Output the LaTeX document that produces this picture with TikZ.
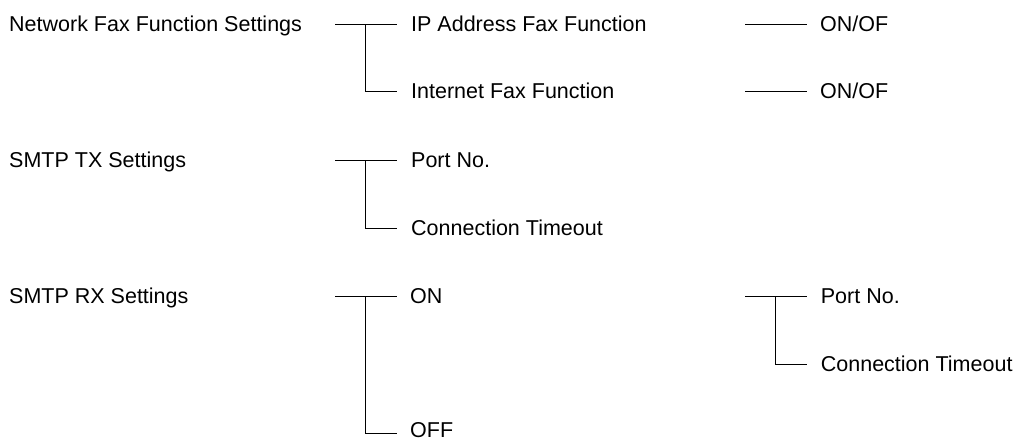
\documentclass[tikz,border=0pt]{standalone}
\usepackage{fontspec}
\setmainfont{Liberation Sans}
\tikzset{
  lbl/.style={anchor=base west, inner sep=0pt, font=\fontsize{21.5}{26}\selectfont},
  ln/.style={line width=1pt, line cap=rect}
}
\begin{document}
\begin{tikzpicture}[x=1pt,y=-1pt]
\useasboundingbox (0,0) rectangle (1018,440);
% row 1
\node[lbl] (nf) at (9,31) {Network Fax Function Settings};
\node[lbl] (ip) at (411,31) {IP Address Fax Function};
\node[lbl] (if) at (411,98.7) {Internet Fax Function};
\node[lbl] (on1) at (820,31) {ON/OF};
\node[lbl] (on2) at (820,98.7) {ON/OF};
\coordinate (nf-out) at (335,24);
\coordinate (nf-j) at (365.7,24);
\coordinate (ip-in) at (396,24);
\coordinate (if-in) at (396,91.7);
\coordinate (ip-out) at (745,24);
\coordinate (on1-in) at (806,24);
\coordinate (if-out) at (745,91.7);
\coordinate (on2-in) at (806,91.7);
\draw[ln] (nf-out) -- (ip-in);
\draw[ln] (nf-j) |- (if-in);
\draw[ln] (ip-out) -- (on1-in);
\draw[ln] (if-out) -- (on2-in);
% row 2
\node[lbl] (tx) at (9,167.7) {SMTP TX Settings};
\node[lbl] (txp) at (411,167.7) {Port No.};
\node[lbl] (txc) at (411,235.3) {Connection Timeout};
\coordinate (tx-out) at (335,160.7);
\coordinate (tx-j) at (365.7,160.7);
\coordinate (txp-in) at (396,160.7);
\coordinate (txc-in) at (396,228.3);
\draw[ln] (tx-out) -- (txp-in);
\draw[ln] (tx-j) |- (txc-in);
% row 3
\node[lbl] (rx) at (9,303.5) {SMTP RX Settings};
\node[lbl] (on) at (410,303.5) {ON};
\node[lbl, text depth=0pt] (off) at (410,437.8) {OFF};
\node[lbl] (rxp) at (820.7,303.5) {Port No.};
\node[lbl] (rxc) at (820.7,371.3) {Connection Timeout};
\coordinate (rx-out) at (335,296.5);
\coordinate (rx-j) at (365.7,296.5);
\coordinate (on-in) at (396,296.5);
\coordinate (off-in) at (396,433.2);
\coordinate (on-out) at (745,296.5);
\coordinate (on-j) at (775.7,296.5);
\coordinate (rxp-in) at (806,296.5);
\coordinate (rxc-in) at (806,364.3);
\draw[ln] (rx-out) -- (on-in);
\draw[ln] (rx-j) |- (off-in);
\draw[ln] (on-out) -- (rxp-in);
\draw[ln] (on-j) |- (rxc-in);
\end{tikzpicture}
\end{document}
